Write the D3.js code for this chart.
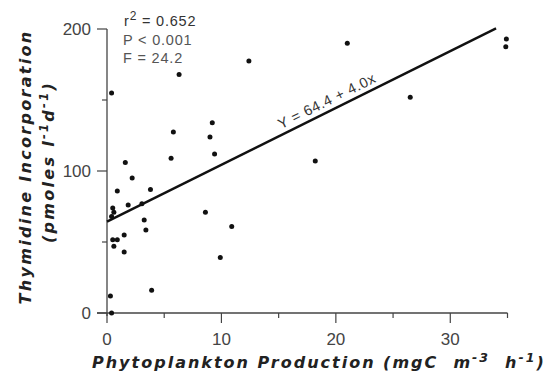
<!DOCTYPE html>
<html>
<head>
<meta charset="utf-8">
<script src="https://cdn.jsdelivr.net/npm/d3@7"></script>
<style>
  body { margin: 0; background: #fff; }
  svg { display: block; }
  text { font-family: "Liberation Sans", Arial, sans-serif; white-space: pre; }
  .title { font-family: "DejaVu Sans", sans-serif; }
</style>
</head>
<body>
<div id="chart"></div>
<script>
// production (mgC m-3 h-1) vs thymidine incorporation (pmoles l-1 d-1)
var prodX = [0.4, 6.3, 12.4, 21.0, 34.9, 34.85, 26.5, 9.2, 9.0, 9.4, 18.2, 8.6, 10.9, 9.9,
             5.8, 5.6, 1.6, 2.2, 0.9, 3.8, 1.85, 3.05, 0.5, 0.6, 0.4, 3.25, 3.4, 1.5,
             0.5, 0.9, 0.6, 1.5, 3.9, 0.3, 0.4];
var thymY = [155, 168, 177.5, 190, 193, 187.5, 152, 134, 124, 112, 107, 71, 61, 39,
             127.5, 109, 106, 95, 86, 87, 76, 77, 74, 71, 68, 65.5, 58.5, 55,
             51.5, 51.5, 47, 43, 16, 12, 0];
var xTicks = [0, 10, 20, 30];
var xMinor = [5, 15, 25, 35];
var yTicks = [0, 100, 200];
var yMinor = [50, 150];
var fitA = 64.4, fitB = 4.0, fitEnd = 34;
var stats = ["P < 0.001", "F = 24.2"];

var width = 550, height = 376;
var svg = d3.select("#chart").append("svg")
    .attr("width", width)
    .attr("height", height);

var x = d3.scaleLinear().domain([0, 35]).range([107, 507.5]);
var y = d3.scaleLinear().domain([0, 200]).range([313, 29]);

var ink = "#222";
var grey = "#444";

// x axis
var xAxis = svg.append("g").attr("transform", "translate(0," + y(0) + ")");
xAxis.append("line")
    .attr("x1", 97).attr("x2", x(35))
    .attr("stroke", grey).attr("stroke-width", 1.3);
xAxis.selectAll(".maj").data(xTicks).enter().append("line")
    .attr("x1", function (d) { return x(d); })
    .attr("x2", function (d) { return x(d); })
    .attr("y1", 0).attr("y2", 10)
    .attr("stroke", grey).attr("stroke-width", 1.2);
xAxis.selectAll(".min").data(xMinor).enter().append("line")
    .attr("x1", function (d) { return x(d); })
    .attr("x2", function (d) { return x(d); })
    .attr("y1", 0).attr("y2", 5)
    .attr("stroke", grey).attr("stroke-width", 1.2);
xAxis.selectAll("text").data(xTicks).enter().append("text")
    .attr("x", function (d) { return x(d); })
    .attr("y", 32)
    .attr("text-anchor", "middle")
    .style("font-size", "17px")
    .style("fill", grey)
    .text(function (d) { return d; });

// y axis
var yAxis = svg.append("g").attr("transform", "translate(" + x(0) + ",0)");
yAxis.append("line")
    .attr("y1", y(200)).attr("y2", y(0) + 3)
    .attr("stroke", grey).attr("stroke-width", 1.3);
yAxis.selectAll(".maj").data(yTicks).enter().append("line")
    .attr("y1", function (d) { return y(d); })
    .attr("y2", function (d) { return y(d); })
    .attr("x1", 0).attr("x2", -10)
    .attr("stroke", grey).attr("stroke-width", 1.2);
yAxis.selectAll(".min").data(yMinor).enter().append("line")
    .attr("y1", function (d) { return y(d); })
    .attr("y2", function (d) { return y(d); })
    .attr("x1", 0).attr("x2", -5)
    .attr("stroke", grey).attr("stroke-width", 1.2);
yAxis.selectAll("text").data(yTicks).enter().append("text")
    .attr("x", -16)
    .attr("y", function (d) { return y(d); })
    .attr("dy", "0.36em")
    .attr("text-anchor", "end")
    .style("font-size", "17px")
    .style("fill", grey)
    .text(function (d) { return d; });

// axis titles
var xTitle = svg.append("text")
    .attr("class", "title")
    .attr("x", 92).attr("y", 368)
    .style("font-size", "16px")
    .style("font-weight", "bold")
    .style("font-style", "italic")
    .style("letter-spacing", "2px")
    .style("fill", ink);
xTitle.append("tspan").text("Phytoplankton Production (mgC  m");
xTitle.append("tspan").attr("dy", -6).style("font-size", "12.5px").text("-3");
xTitle.append("tspan").attr("dy", 6).text("  h");
xTitle.append("tspan").attr("dy", -6).style("font-size", "12.5px").text("-1");
xTitle.append("tspan").attr("dy", 6).text(")");

var yTitle = svg.append("g").attr("transform", "translate(31,167) rotate(-90)");
yTitle.append("text")
    .attr("class", "title")
    .attr("text-anchor", "middle")
    .style("font-size", "16px")
    .style("font-weight", "bold")
    .style("font-style", "italic")
    .style("letter-spacing", "2.3px")
    .style("fill", ink)
    .text("Thymidine Incorporation");
var yTitle2 = yTitle.append("text")
    .attr("class", "title")
    .attr("y", 23)
    .attr("x", 5)
    .attr("text-anchor", "middle")
    .style("font-size", "16px")
    .style("font-weight", "bold")
    .style("font-style", "italic")
    .style("letter-spacing", "2.3px")
    .style("fill", ink);
yTitle2.append("tspan").text("(pmoles l");
yTitle2.append("tspan").attr("dy", -6).style("font-size", "11.5px").text("-1");
yTitle2.append("tspan").attr("dy", 6).text("d");
yTitle2.append("tspan").attr("dy", -6).style("font-size", "11.5px").text("-1");
yTitle2.append("tspan").attr("dy", 6).text(")");

// regression line
svg.append("line")
    .attr("x1", x(0)).attr("y1", y(fitA))
    .attr("x2", x(fitEnd)).attr("y2", y(fitA + fitB * fitEnd))
    .attr("stroke", "#111").attr("stroke-width", 2.4);

var angle = Math.atan2(y(fitA + fitB * 20) - y(fitA), x(20) - x(0)) * 180 / Math.PI;
svg.append("text")
    .attr("transform", "translate(" + x(19.4) + "," + (y(fitA + fitB * 19.4) - 6) + ") rotate(" + angle + ")")
    .attr("text-anchor", "middle")
    .style("font-size", "14.5px")
    .style("fill", "#333")
    .style("letter-spacing", "0.6px")
    .text("Y = 64.4 + 4.0x");

// points
svg.append("g").selectAll("circle")
    .data(prodX.map(function (v, i) { return [v, thymY[i]]; }))
    .enter().append("circle")
    .attr("cx", function (d) { return x(d[0]); })
    .attr("cy", function (d) { return y(d[1]); })
    .attr("r", 2.5)
    .attr("fill", "#111");

// stats
var r2 = svg.append("text")
    .attr("x", 124).attr("y", 26)
    .style("font-size", "14.5px")
    .style("letter-spacing", "0.8px")
    .style("fill", "#333");
r2.append("tspan").text("r");
r2.append("tspan").attr("dy", -6).style("font-size", "12px").text("2");
r2.append("tspan").attr("dy", 6).text(" = 0.652");
svg.selectAll(".stat").data(stats).enter().append("text")
    .attr("x", 123)
    .attr("y", function (d, i) { return 45 + i * 18; })
    .style("font-size", "14.5px")
    .style("letter-spacing", "0.8px")
    .style("fill", "#555")
    .text(function (d) { return d; });
</script>
</body>
</html>
